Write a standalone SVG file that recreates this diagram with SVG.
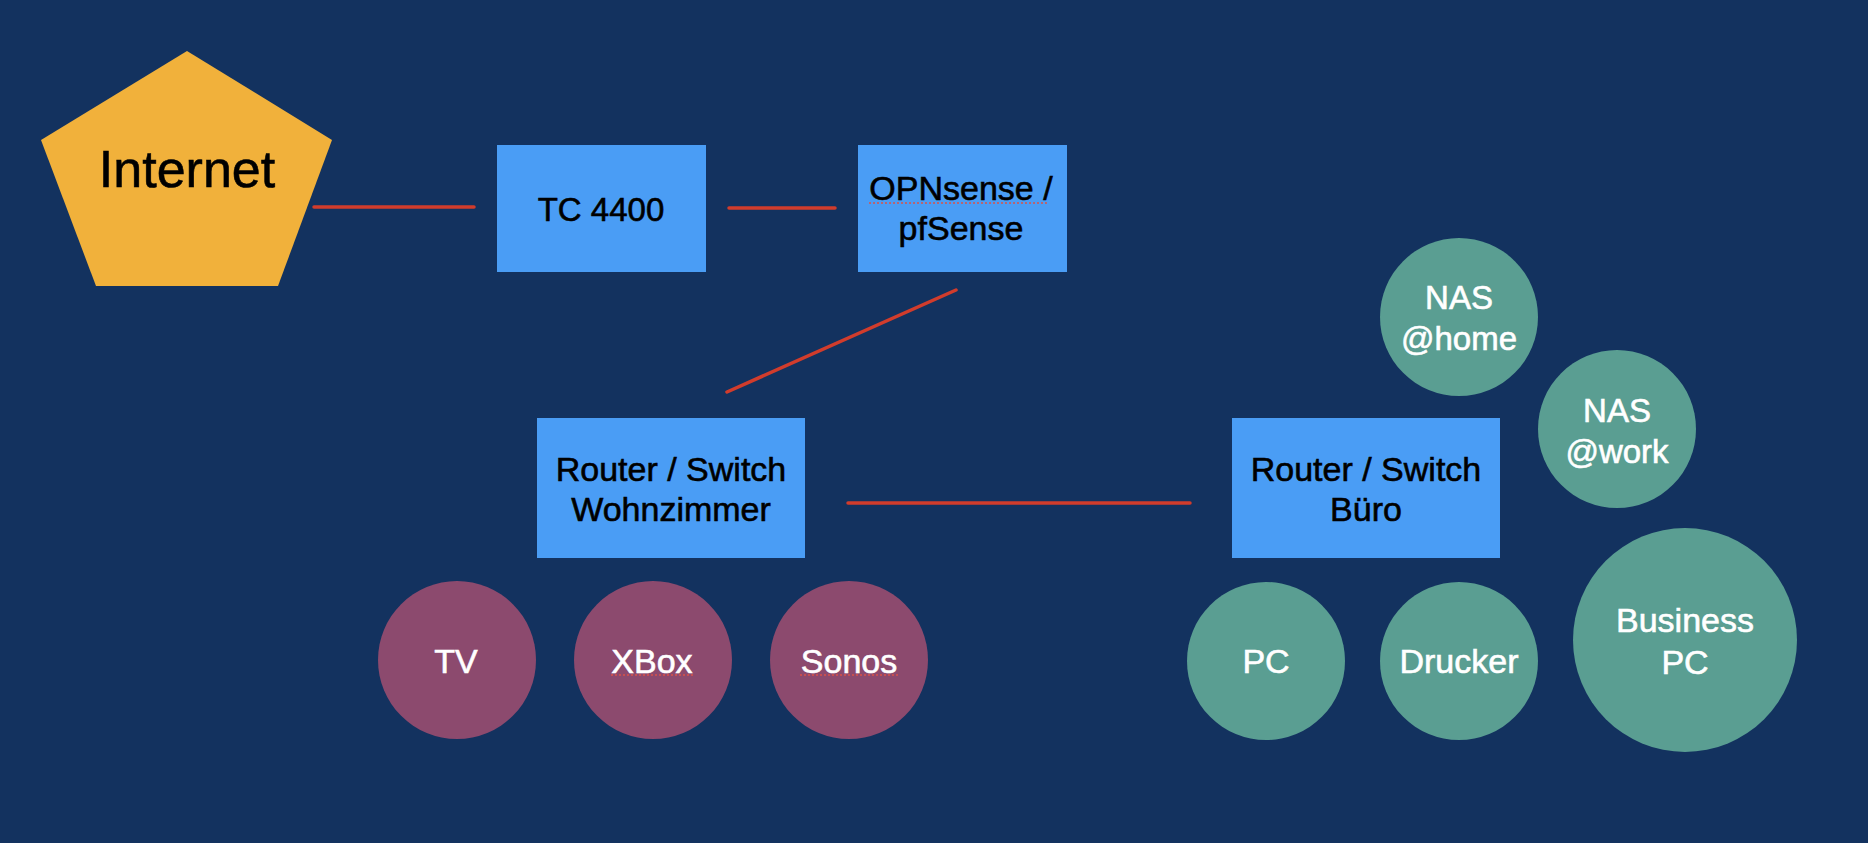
<svg xmlns="http://www.w3.org/2000/svg" width="1868" height="843" viewBox="0 0 1868 843">
<style>
.box{fill:#4a9df5}
.pur{fill:#8c4a6e}
.grn{fill:#5a9e92}
.t{font-family:"Liberation Sans",Arial,Helvetica,sans-serif;font-size:34px;text-anchor:middle;stroke-width:0.6px}
.dk{fill:#000;stroke:#000}
.wt{fill:#fff;stroke:#fff}
.wire{stroke:#d13c2c;stroke-width:3.5;stroke-linecap:round;fill:none}
.spell{stroke:#d9534a;stroke-width:1.5;stroke-dasharray:2 2;fill:none}
</style>
<rect x="0" y="0" width="1868" height="843" fill="#13325f"/>
<g id="connectors">
<line class="wire" x1="314" y1="207" x2="474" y2="207"/>
<line class="wire" x1="729" y1="208" x2="835" y2="208"/>
<line class="wire" x1="727" y1="392" x2="956" y2="290"/>
<line class="wire" x1="848" y1="503" x2="1190" y2="503"/>
</g>
<g id="internet">
<polygon points="187,51 332,140 278,286 96,286 41,140" fill="#f1b13b"/>
<text class="t dk" x="187" y="187" style="font-size:52px">Internet</text>
</g>
<g id="tc4400">
<rect class="box" x="497" y="145" width="209" height="127"/>
<text class="t dk" x="601" y="221" style="font-size:33px">TC 4400</text>
</g>
<g id="opnsense">
<rect class="box" x="858" y="145" width="209" height="127"/>
<text class="t dk" x="961" y="200">OPNsense /</text>
<text class="t dk" x="961" y="240">pfSense</text>
<line class="spell" x1="869" y1="203" x2="1047" y2="203"/>
</g>
<g id="router-wohnzimmer">
<rect class="box" x="537" y="418" width="268" height="140"/>
<text class="t dk" x="671" y="481">Router / Switch</text>
<text class="t dk" x="671" y="521">Wohnzimmer</text>
</g>
<g id="router-buero">
<rect class="box" x="1232" y="418" width="268" height="140"/>
<text class="t dk" x="1366" y="481">Router / Switch</text>
<text class="t dk" x="1366" y="521">Büro</text>
</g>
<g id="tv">
<circle class="pur" cx="457" cy="660" r="79"/>
<text class="t wt" x="456" y="673">TV</text>
</g>
<g id="xbox">
<circle class="pur" cx="653" cy="660" r="79"/>
<text class="t wt" x="652" y="673">XBox</text>
<line class="spell" x1="611" y1="675" x2="693" y2="675"/>
</g>
<g id="sonos">
<circle class="pur" cx="849" cy="660" r="79"/>
<text class="t wt" x="849" y="673">Sonos</text>
<line class="spell" x1="800" y1="675" x2="898" y2="675"/>
</g>
<g id="nas-home">
<circle class="grn" cx="1459" cy="317" r="79"/>
<text class="t wt" x="1459" y="309" style="font-size:33px">NAS</text>
<text class="t wt" x="1459" y="350" style="font-size:33px">@home</text>
</g>
<g id="nas-work">
<circle class="grn" cx="1617" cy="429" r="79"/>
<text class="t wt" x="1617" y="422" style="font-size:33px">NAS</text>
<text class="t wt" x="1617" y="463" style="font-size:33px">@work</text>
</g>
<g id="pc">
<circle class="grn" cx="1266" cy="661" r="79"/>
<text class="t wt" x="1266" y="673">PC</text>
</g>
<g id="drucker">
<circle class="grn" cx="1459" cy="661" r="79"/>
<text class="t wt" x="1459" y="673">Drucker</text>
</g>
<g id="business-pc">
<circle class="grn" cx="1685" cy="640" r="112"/>
<text class="t wt" x="1685" y="632">Business</text>
<text class="t wt" x="1685" y="674">PC</text>
</g>
</svg>
